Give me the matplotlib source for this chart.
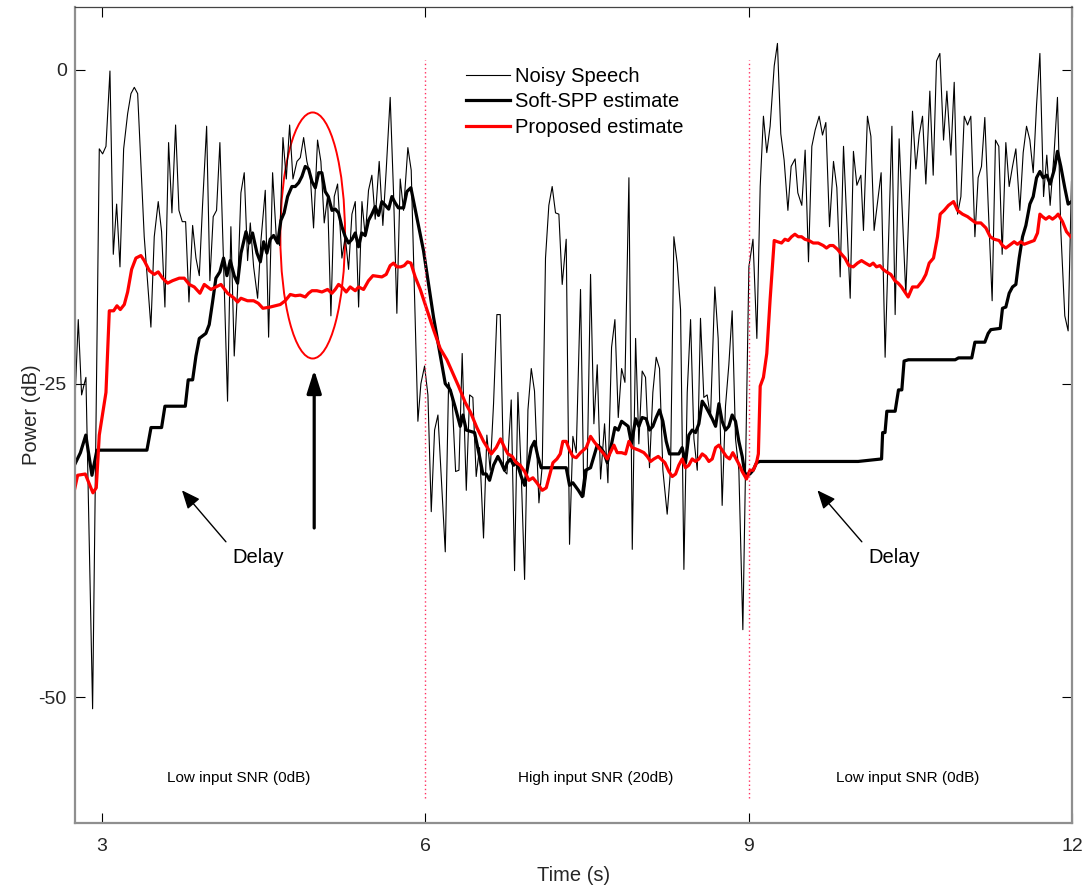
import matplotlib
matplotlib.use('Agg')
import matplotlib.pyplot as plt
from matplotlib.patches import Ellipse

plt.rcParams['font.family'] = ['Liberation Sans', 'DejaVu Sans']
plt.rcParams['axes.unicode_minus'] = False

# noisy speech power (thin black), vertices
noisy_t = [2.743, 2.780, 2.811, 2.836, 2.851, 2.913, 2.975, 3.006, 3.037, 3.074,
           3.105, 3.136, 3.167, 3.201, 3.238, 3.269, 3.300, 3.331, 3.392, 3.454,
           3.485, 3.522, 3.553, 3.584, 3.618, 3.649, 3.683, 3.714, 3.745, 3.776,
           3.807, 3.841, 3.872, 3.903, 3.933, 3.971, 4.001, 4.032, 4.063, 4.094,
           4.125, 4.165, 4.196, 4.227, 4.258, 4.289, 4.320, 4.351, 4.376, 4.407,
           4.444, 4.475, 4.515, 4.546, 4.583, 4.617, 4.648, 4.679, 4.710, 4.741,
           4.772, 4.809, 4.840, 4.871, 4.901, 4.932, 4.963, 5.000, 5.031, 5.062,
           5.093, 5.124, 5.155, 5.186, 5.226, 5.257, 5.288, 5.319, 5.350, 5.381,
           5.412, 5.443, 5.473, 5.504, 5.535, 5.572, 5.606, 5.637, 5.674, 5.705,
           5.736, 5.767, 5.798, 5.838, 5.869, 5.931, 5.959, 5.993, 6.024, 6.055,
           6.086, 6.117, 6.185, 6.216, 6.247, 6.281, 6.312, 6.342, 6.380, 6.411,
           6.441, 6.472, 6.503, 6.540, 6.571, 6.602, 6.633, 6.664, 6.695, 6.726,
           6.757, 6.797, 6.828, 6.859, 6.890, 6.921, 6.952, 6.983, 7.013, 7.054,
           7.085, 7.115, 7.146, 7.177, 7.208, 7.239, 7.270, 7.307, 7.338, 7.369,
           7.400, 7.440, 7.471, 7.502, 7.533, 7.564, 7.595, 7.626, 7.663, 7.694,
           7.728, 7.759, 7.790, 7.821, 7.852, 7.889, 7.920, 7.951, 7.981, 8.012,
           8.043, 8.080, 8.111, 8.142, 8.173, 8.204, 8.244, 8.275, 8.306, 8.337,
           8.368, 8.399, 8.430, 8.461, 8.492, 8.523, 8.553, 8.584, 8.615, 8.646,
           8.686, 8.717, 8.754, 8.785, 8.816, 8.847, 8.878, 8.909, 8.946, 9.002,
           9.040, 9.076, 9.107, 9.137, 9.168, 9.199, 9.237, 9.267, 9.298, 9.329,
           9.364, 9.394, 9.431, 9.456, 9.493, 9.524, 9.555, 9.586, 9.617, 9.654,
           9.685, 9.716, 9.750, 9.787, 9.818, 9.849, 9.880, 9.942, 9.972, 10.004,
           10.041, 10.065, 10.102, 10.134, 10.164, 10.229, 10.266, 10.329, 10.359, 10.396,
           10.458, 10.520, 10.551, 10.582, 10.613, 10.644, 10.681, 10.712, 10.743, 10.774,
           10.808, 10.839, 10.876, 10.907, 10.938, 10.969, 11.000, 11.031, 11.061, 11.099,
           11.129, 11.160, 11.191, 11.222, 11.259, 11.290, 11.321, 11.352, 11.386, 11.417,
           11.448, 11.479, 11.516, 11.547, 11.578, 11.609, 11.640, 11.671, 11.702, 11.736,
           11.766, 11.797, 11.834, 11.865, 11.896, 11.933, 11.964, 11.995]
noisy_db = [-27.7, -19.9, -25.9, -25.0, -24.5, -50.9, -6.3, -6.7, -6.1, -0.1,
            -14.7, -10.7, -15.7, -6.3, -3.5, -1.9, -1.4, -1.9, -13.3, -20.5,
            -13.3, -10.5, -12.9, -18.9, -5.8, -11.4, -4.4, -11.2, -12.1, -12.1,
            -18.5, -12.4, -15.0, -16.4, -10.8, -4.5, -16.8, -11.7, -11.2, -5.8,
            -14.5, -26.4, -12.5, -22.8, -17.5, -9.8, -8.2, -15.2, -12.2, -15.7,
            -18.2, -13.6, -9.6, -21.3, -8.2, -13.3, -14.0, -5.4, -8.7, -4.4,
            -8.7, -7.3, -7.0, -5.4, -7.3, -8.4, -12.6, -5.6, -7.3, -12.2,
            -10.1, -19.6, -10.1, -9.1, -15.0, -13.3, -15.9, -11.5, -10.5, -18.9,
            -10.5, -13.3, -9.6, -8.4, -11.9, -7.3, -12.4, -8.0, -2.2, -9.8,
            -19.4, -8.7, -11.2, -6.2, -8.0, -28.0, -25.0, -23.6, -25.9, -35.2,
            -28.7, -27.5, -38.4, -24.9, -25.9, -32.0, -31.9, -22.6, -33.5, -25.9,
            -26.1, -32.4, -30.1, -37.3, -29.1, -31.9, -26.6, -19.5, -19.5, -31.9,
            -32.2, -26.3, -39.9, -25.7, -32.2, -40.6, -27.1, -23.8, -25.6, -34.5,
            -31.5, -15.0, -10.8, -9.3, -11.4, -11.5, -17.1, -13.5, -37.8, -29.2,
            -30.5, -17.5, -34.0, -31.9, -16.3, -28.2, -23.5, -32.6, -28.2, -32.9,
            -22.1, -19.9, -27.7, -23.8, -24.9, -8.6, -38.2, -21.4, -29.8, -24.0,
            -24.5, -31.7, -25.7, -22.9, -23.8, -31.9, -35.4, -31.9, -13.3, -15.4,
            -19.1, -39.8, -25.7, -19.9, -29.4, -31.9, -19.8, -26.1, -25.9, -27.7,
            -17.3, -21.4, -34.7, -26.8, -23.5, -19.2, -29.4, -31.9, -44.6, -15.7,
            -13.5, -21.4, -9.3, -3.7, -6.6, -4.5, 0.3, 2.1, -5.1, -7.2,
            -11.2, -7.7, -7.1, -9.8, -10.8, -6.4, -15.3, -6.1, -4.8, -3.7,
            -5.2, -4.2, -12.5, -7.3, -9.4, -16.5, -6.1, -18.2, -6.5, -9.2,
            -8.4, -12.8, -3.7, -5.3, -12.8, -8.2, -22.9, -4.5, -19.5, -5.5,
            -17.9, -3.3, -7.9, -5.2, -3.7, -9.1, -1.7, -8.4, 0.7, 1.3,
            -5.6, -1.7, -6.8, -1.0, -11.5, -10.1, -3.7, -4.4, -3.7, -13.3,
            -8.6, -7.7, -3.8, -10.7, -18.4, -5.6, -6.1, -14.7, -5.8, -9.3,
            -7.7, -6.3, -11.2, -6.6, -4.5, -5.6, -8.2, -2.8, 1.3, -10.1,
            -6.8, -10.8, -6.6, -2.2, -12.8, -19.6, -20.8, -8.9]

# soft-SPP noise estimate (thick black)
spp_t = [2.744, 2.800, 2.850, 2.907, 2.953, 3.417, 3.455, 3.553, 3.584, 3.773,
         3.800, 3.841, 3.872, 3.903, 3.964, 3.995, 4.026, 4.057, 4.094, 4.128,
         4.159, 4.190, 4.227, 4.258, 4.290, 4.336, 4.366, 4.397, 4.438, 4.469,
         4.500, 4.530, 4.561, 4.592, 4.630, 4.660, 4.690, 4.722, 4.762, 4.793,
         4.825, 4.855, 4.886, 4.917, 4.948, 4.979, 5.010, 5.040, 5.071, 5.100,
         5.134, 5.165, 5.195, 5.226, 5.257, 5.288, 5.320, 5.350, 5.380, 5.410,
         5.442, 5.473, 5.504, 5.535, 5.566, 5.597, 5.628, 5.660, 5.690, 5.720,
         5.750, 5.798, 5.829, 5.866, 5.983, 6.076, 6.185, 6.231, 6.278, 6.324,
         6.349, 6.380, 6.457, 6.503, 6.534, 6.565, 6.596, 6.633, 6.673, 6.704,
         6.735, 6.760, 6.791, 6.819, 6.850, 6.890, 6.921, 6.952, 6.983, 7.013,
         7.044, 7.075, 7.307, 7.338, 7.369, 7.420, 7.456, 7.487, 7.533, 7.595,
         7.626, 7.657, 7.688, 7.728, 7.759, 7.790, 7.821, 7.852, 7.882, 7.913,
         7.951, 7.981, 8.012, 8.049, 8.080, 8.111, 8.142, 8.173, 8.204, 8.235,
         8.266, 8.352, 8.383, 8.414, 8.445, 8.476, 8.507, 8.538, 8.569, 8.600,
         8.631, 8.662, 8.693, 8.724, 8.754, 8.785, 8.816, 8.847, 8.878, 8.909,
         8.940, 8.965, 9.011, 9.042, 9.073, 9.104, 10.016, 10.233, 10.243, 10.265,
         10.282, 10.359, 10.390, 10.421, 10.442, 10.482, 10.916, 10.947, 11.070, 11.099,
         11.191, 11.222, 11.247, 11.334, 11.355, 11.386, 11.417, 11.448, 11.479, 11.510,
         11.541, 11.572, 11.609, 11.640, 11.671, 11.702, 11.732, 11.766, 11.797, 11.834,
         11.865, 11.896, 11.933, 11.964, 11.995]
spp_db = [-31.5, -30.5, -29.1, -32.3, -30.3, -30.3, -28.5, -28.5, -26.8, -26.8,
          -24.7, -24.7, -22.8, -21.4, -21.0, -20.3, -18.5, -16.6, -16.1, -15.0,
          -16.4, -15.2, -16.4, -17.0, -14.6, -12.9, -13.8, -13.0, -14.6, -15.3,
          -13.7, -14.6, -13.5, -13.2, -13.8, -12.0, -11.4, -10.1, -9.3, -9.3,
          -9.0, -8.5, -7.7, -7.9, -8.9, -9.4, -8.2, -8.2, -9.7, -10.1,
          -11.2, -11.1, -11.4, -12.5, -13.3, -13.8, -13.5, -13.0, -14.1, -13.0,
          -13.2, -12.0, -11.5, -10.9, -11.6, -10.5, -10.8, -11.1, -10.1, -10.6,
          -11.0, -11.0, -9.7, -9.4, -14.4, -19.7, -25.0, -25.5, -26.9, -28.4,
          -27.5, -28.7, -28.9, -30.8, -32.2, -32.2, -32.7, -31.5, -30.8, -31.3,
          -31.9, -31.3, -31.0, -31.5, -31.3, -32.4, -33.1, -31.5, -30.1, -29.6,
          -30.8, -31.7, -31.7, -33.1, -32.9, -33.5, -34.0, -31.9, -31.7, -29.9,
          -30.1, -30.5, -31.3, -29.8, -28.5, -28.7, -28.0, -28.2, -28.4, -29.8,
          -27.8, -28.4, -27.7, -27.8, -28.7, -28.4, -27.7, -27.1, -28.0, -29.6,
          -30.6, -30.6, -30.1, -31.3, -29.1, -28.7, -28.9, -28.2, -26.4, -26.8,
          -27.3, -27.8, -28.4, -26.6, -28.0, -28.7, -28.4, -27.5, -28.0, -29.6,
          -30.8, -32.2, -32.2, -31.9, -31.3, -31.2, -31.2, -31.0, -28.9, -28.9,
          -27.2, -27.2, -25.5, -25.5, -23.2, -23.1, -23.1, -22.95, -22.95, -21.7,
          -21.7, -21.0, -20.7, -20.6, -19.0, -18.9, -17.8, -17.3, -17.1, -15.0,
          -13.3, -12.4, -10.7, -10.1, -8.6, -8.1, -8.6, -8.4, -9.1, -8.0,
          -6.5, -7.7, -9.4, -10.7, -10.5]

# proposed noise estimate (red)
prop_t = [2.744, 2.774, 2.845, 2.916, 2.947, 2.975, 3.037, 3.068, 3.108, 3.139,
          3.170, 3.207, 3.238, 3.275, 3.315, 3.361, 3.392, 3.439, 3.485, 3.522,
          3.562, 3.609, 3.655, 3.717, 3.763, 3.810, 3.856, 3.909, 3.949, 4.011,
          4.057, 4.104, 4.165, 4.227, 4.258, 4.289, 4.350, 4.407, 4.450, 4.493,
          4.561, 4.608, 4.654, 4.700, 4.747, 4.793, 4.840, 4.886, 4.917, 4.948,
          4.994, 5.041, 5.093, 5.133, 5.164, 5.195, 5.226, 5.266, 5.303, 5.350,
          5.381, 5.427, 5.473, 5.514, 5.597, 5.637, 5.674, 5.705, 5.736, 5.773,
          5.804, 5.835, 5.866, 5.906, 5.953, 6.015, 6.076, 6.138, 6.200, 6.262,
          6.308, 6.370, 6.420, 6.478, 6.540, 6.590, 6.612, 6.658, 6.698, 6.735,
          6.766, 6.806, 6.843, 6.880, 6.921, 6.961, 6.998, 7.035, 7.085, 7.122,
          7.184, 7.221, 7.252, 7.276, 7.307, 7.338, 7.369, 7.400, 7.440, 7.493,
          7.533, 7.564, 7.626, 7.657, 7.688, 7.750, 7.780, 7.821, 7.858, 7.889,
          7.920, 7.981, 8.028, 8.059, 8.090, 8.121, 8.161, 8.223, 8.260, 8.291,
          8.322, 8.352, 8.383, 8.414, 8.445, 8.476, 8.507, 8.538, 8.569, 8.600,
          8.631, 8.662, 8.693, 8.724, 8.754, 8.792, 8.823, 8.853, 8.884, 8.915,
          8.940, 8.980, 9.011, 9.042, 9.073, 9.090, 9.107, 9.137, 9.168, 9.199,
          9.237, 9.268, 9.305, 9.336, 9.367, 9.398, 9.429, 9.460, 9.491, 9.521,
          9.559, 9.599, 9.645, 9.692, 9.722, 9.753, 9.784, 9.824, 9.862, 9.893,
          9.930, 9.970, 10.010, 10.047, 10.084, 10.124, 10.155, 10.186, 10.217, 10.248,
          10.279, 10.319, 10.356, 10.387, 10.418, 10.449, 10.480, 10.520, 10.567, 10.613,
          10.644, 10.675, 10.715, 10.752, 10.777, 10.814, 10.854, 10.901, 10.938, 10.984,
          11.031, 11.061, 11.108, 11.154, 11.201, 11.241, 11.278, 11.324, 11.355, 11.386,
          11.417, 11.463, 11.494, 11.525, 11.556, 11.587, 11.649, 11.680, 11.702, 11.726,
          11.757, 11.788, 11.819, 11.850, 11.871, 11.912, 11.949, 11.989]
prop_db = [-33.5, -32.3, -32.2, -33.7, -33.3, -29.1, -25.7, -19.2, -19.2, -18.8,
           -19.1, -18.7, -17.7, -15.9, -15.0, -14.8, -15.2, -16.0, -16.3, -16.1,
           -16.6, -17.0, -16.8, -16.6, -16.6, -17.1, -17.3, -17.8, -17.1, -17.5,
           -17.3, -17.1, -17.8, -18.2, -18.5, -18.2, -18.4, -18.4, -18.6, -19.0,
           -18.9, -18.8, -18.7, -18.4, -17.9, -18.0, -17.95, -18.1, -17.8, -17.6,
           -17.6, -17.7, -17.5, -17.8, -17.5, -17.1, -17.3, -17.7, -17.3, -17.6,
           -17.3, -17.5, -16.8, -16.4, -16.5, -16.3, -15.6, -15.4, -15.7, -15.7,
           -15.6, -15.3, -15.4, -16.5, -17.5, -19.1, -20.7, -22.2, -23.1, -24.3,
           -25.2, -26.5, -27.3, -28.5, -29.6, -30.3, -30.6, -30.1, -29.4, -30.1,
           -30.6, -30.8, -31.3, -31.5, -32.0, -32.7, -32.5, -32.9, -33.5, -33.3,
           -31.3, -31.0, -30.6, -29.6, -29.6, -30.3, -30.8, -30.9, -30.5, -30.1,
           -29.2, -29.6, -30.3, -30.6, -31.0, -29.9, -30.5, -30.5, -30.6, -29.6,
           -30.1, -30.3, -30.5, -30.8, -31.2, -31.0, -30.8, -31.3, -32.0, -32.4,
           -32.2, -31.5, -31.0, -31.7, -31.5, -31.0, -31.2, -31.0, -30.6, -30.8,
           -31.2, -31.0, -30.1, -29.9, -30.3, -30.8, -31.0, -30.5, -31.0, -31.5,
           -32.0, -32.6, -31.9, -31.9, -31.3, -30.6, -25.2, -24.5, -22.6, -18.3,
           -13.6, -13.7, -13.8, -13.5, -13.6, -13.3, -13.1, -13.3, -13.3, -13.5,
           -13.6, -13.8, -13.8, -14.0, -14.2, -14.0, -14.0, -14.3, -14.7, -15.0,
           -15.6, -15.7, -15.4, -15.2, -15.4, -15.6, -15.4, -15.7, -15.6, -15.9,
           -16.1, -16.3, -16.8, -17.0, -17.3, -17.7, -18.1, -17.3, -17.3, -16.8,
           -16.3, -15.4, -15.0, -13.3, -11.5, -11.2, -10.8, -10.5, -11.2, -11.5,
           -11.7, -11.9, -12.2, -12.2, -12.6, -13.3, -13.5, -13.6, -14.0, -14.2,
           -14.0, -13.7, -13.9, -13.7, -13.9, -13.8, -13.6, -13.0, -11.5, -11.7,
           -11.9, -11.7, -11.9, -11.7, -11.5, -12.1, -12.9, -13.3]

region_x = [4.27, 7.58, 10.48]
region_labels = ['Low input SNR (0dB)', 'High input SNR (20dB)', 'Low input SNR (0dB)']
boundaries = [6, 9]

fig = plt.figure(figsize=(10.89, 8.86), dpi=100)
ax = fig.add_axes([0.0689, 0.0711, 0.9155, 0.921])

ax.plot(noisy_t, noisy_db, color='k', lw=0.8, label='Noisy Speech')
ax.plot(spp_t, spp_db, color='k', lw=2.3, label='Soft-SPP estimate')
ax.plot(prop_t, prop_db, color='#ff0000', lw=2.3, label='Proposed estimate')

for b in boundaries:
    ax.plot([b, b], [-58, 0.8], color='#ff3060', lw=1.0, ls=(0, (1, 2)))

for x, s in zip(region_x, region_labels):
    ax.text(x, -56.7, s, fontsize=11, ha='center', va='baseline')

# circled region and arrows
ax.add_patch(Ellipse((4.955, -13.2), 0.60, 19.6, fill=False, ec='#ff0000', lw=1.4))
ax.annotate('', xy=(4.969, -23.9), xytext=(4.969, -36.5),
            arrowprops=dict(arrowstyle='-|>,head_length=0.7,head_width=0.22',
                            color='k', lw=2.3, mutation_scale=20, shrinkA=0, shrinkB=0))
ax.annotate('', xy=(3.742, -33.5), xytext=(4.15, -37.6),
            arrowprops=dict(arrowstyle='-|>,head_length=0.7,head_width=0.3',
                            color='k', lw=1.0, mutation_scale=16, shrinkA=0, shrinkB=0))
ax.annotate('', xy=(9.638, -33.5), xytext=(10.05, -37.6),
            arrowprops=dict(arrowstyle='-|>,head_length=0.7,head_width=0.3',
                            color='k', lw=1.0, mutation_scale=16, shrinkA=0, shrinkB=0))
ax.text(4.448, -39.3, 'Delay', fontsize=14.5, ha='center', va='baseline')
ax.text(10.348, -39.3, 'Delay', fontsize=14.5, ha='center', va='baseline')

ax.set_xlim(2.75, 12)
ax.set_ylim(-60, 5)
ax.set_xticks([3, 6, 9, 12])
ax.set_yticks([-50, -25, 0])
ax.tick_params(direction='in', length=7, width=0.8, labelsize=14, colors='k',
               labelcolor='#262626', top=True, right=True)
ax.tick_params(axis='x', pad=11)
ax.tick_params(axis='y', pad=6)
for side in ['left', 'bottom', 'right']:
    ax.spines[side].set_color('#8f8f8f')
    ax.spines[side].set_linewidth(1.6)
ax.spines['top'].set_color('#444444')
ax.spines['top'].set_linewidth(0.9)

ax.set_xlabel('Time (s)', fontsize=14.5, color='#262626', labelpad=8)
ax.set_ylabel('Power (dB)', fontsize=14.5, color='#262626', labelpad=-2)

ax.legend(loc='upper left', bbox_to_anchor=(0.392, 0.927), frameon=False,
          fontsize=14.5, handlelength=2.2, handletextpad=0.25,
          labelspacing=0.33, borderpad=0, borderaxespad=0)

plt.savefig('out.png', dpi=100)
plt.close()
